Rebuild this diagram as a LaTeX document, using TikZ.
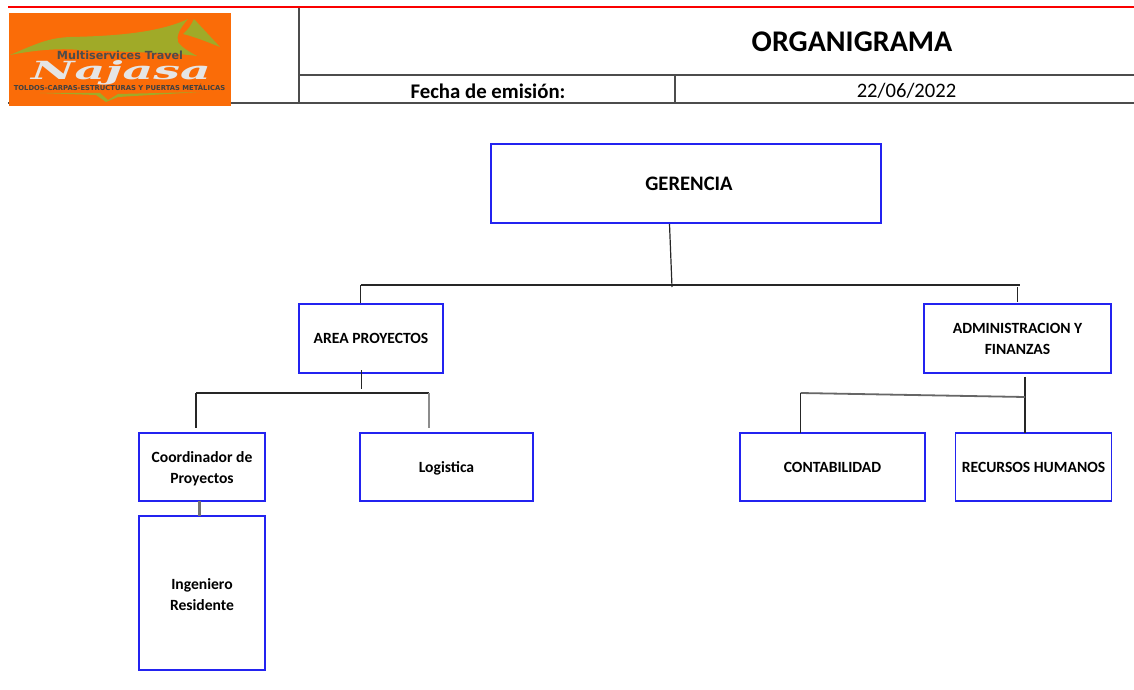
\documentclass[tikz,border=0pt]{standalone}
\usepackage{fontspec}
\usepackage{graphicx}
\setmainfont{Carlito}
\newfontfamily\logosans{DejaVu Sans}
\newfontfamily\logoserif{DejaVu Serif}
\newcommand{\dropstrut}[1]{\rule{0pt}{#1}}
\definecolor{logoorange}{RGB}{250,108,8}
\definecolor{logogreen}{RGB}{160,170,40}
\definecolor{boxblue}{RGB}{35,35,240}
\definecolor{headred}{RGB}{250,0,0}
\begin{document}
\begin{tikzpicture}[x=1pt,y=-1pt,
  orgbox/.style={draw=boxblue,line width=1.3pt,fill=white,align=center,inner sep=0pt,font=\fontsize{15.6}{21}\selectfont\bfseries},
  wire/.style={draw=black!85,line width=1.2pt},
  wiregray/.style={draw=black!45,line width=2.2pt},
  rule/.style={draw=black!70,line width=2pt},
  hdr/.style={inner sep=0pt,anchor=center}]
\useasboundingbox (0,0) rectangle (1134,690);
% header frame
\coordinate (hBL) at (8,103.5); \coordinate (hBR) at (1134,103.5);
\coordinate (vT) at (298.5,8.5); \coordinate (vB) at (298.5,103.5);
\coordinate (mL) at (298.5,75.5); \coordinate (mR) at (1134,75.5);
\coordinate (dT) at (675,75.5); \coordinate (dB) at (675,103.5);
\draw[rule] (hBL) -- (hBR);
\draw[rule] (vT) -- (vB);
\draw[rule] (mL) -- (mR);
\draw[rule,line width=1.3pt] (dT) -- (dB);
\fill[headred] (8,6.5) rectangle (1134,8.5);
% logo
\fill[logoorange] (9,13) rectangle (231,106);
\fill[logogreen] (10,55) .. controls (40,42) and (50,38) .. (70,37)
  .. controls (120,36) and (160,32) .. (188,19)
  .. controls (180,28) and (176,36) .. (178,42) .. controls (182,48) and (190,52) .. (197,56)
  .. controls (170,52) and (110,52) .. (80,50) .. controls (60,48) and (35,50) .. (10,55) -- cycle;
\fill[logogreen] (194,19) -- (220,47) .. controls (205,41) and (195,37) .. (183,34) .. controls (188,30) and (191,25) .. (194,19) -- cycle;
\node[hdr,text=black!70,font=\logosans\fontsize{11.2}{12}\selectfont\bfseries] (logoa) at (120,55.5) {Multiservices Travel};
\node[hdr,text=white!90!black,font=\logoserif\fontsize{25}{25}\selectfont\itshape\bfseries] (logob) at (121,73) {\scalebox{1.9}[1]{Najasa}};
\node[hdr,text=black!75,font=\logosans\fontsize{6.8}{7}\selectfont\bfseries] (logoc) at (119.5,87.5) {TOLDOS-CARPAS-ESTRUCTURAS Y PUERTAS METÁLICAS};
\fill[logogreen] (40,93) -- (100,93) -- (108,100) -- (118,94) -- (200,92) -- (118,97) -- (106,102) -- (96,95) -- cycle;
% header text
\node[hdr,font=\fontsize{30}{32}\selectfont\bfseries] (title) at (852,42) {ORGANIGRAMA};
\node[hdr,font=\fontsize{20.8}{22}\selectfont\bfseries] (fecha) at (488,91) {Fecha de emisión:};
\node[hdr,font=\fontsize{20.6}{22}\selectfont] (date) at (906.5,91) {22/06/2022};
% boxes
\node[orgbox,minimum width=390pt,minimum height=79pt,font=\fontsize{20.6}{24}\selectfont\bfseries,text width=390pt] (ger) at (686,183.5) {\hspace*{6pt}\dropstrut{15pt}GERENCIA};
\node[orgbox,minimum width=144pt,minimum height=69pt] (area) at (371,338.5) {AREA PROYECTOS};
\node[orgbox,minimum width=187pt,minimum height=69pt] (adm) at (1017.5,338.5) {\dropstrut{12pt}ADMINISTRACION Y\\FINANZAS};
\node[orgbox,minimum width=126pt,minimum height=68pt] (coord) at (202,467) {\dropstrut{15.4pt}Coordinador de\\Proyectos};
\node[orgbox,minimum width=173pt,minimum height=68pt] (log) at (446.5,467) {\dropstrut{14.4pt}Logistica};
\node[orgbox,minimum width=185pt,minimum height=68pt] (cont) at (832.5,467) {CONTABILIDAD};
\node[orgbox,minimum width=156pt,minimum height=68pt] (rrhh) at (1033.5,467) {RECURSOS HUMANOS};
\node[orgbox,minimum width=126pt,minimum height=154pt] (ing) at (202,593) {\dropstrut{13.4pt}Ingeniero\\Residente};
% connectors
\coordinate (gA) at (669.5,224); \coordinate (gB) at (672,287);
\coordinate (tL) at (360.5,285); \coordinate (tR) at (1020,285);
\coordinate (tR2) at (1017.5,287); \coordinate (aT) at (1017.5,302);
\draw[wire] (gA) -- (gB);
\draw[wire] (tL) -- (tR);
\draw[wire] (tL) -- (tL |- area.north);
\draw[wire] (tR2) -- (aT);
\coordinate (pA) at (361.5,370); \coordinate (pB) at (361.5,389);
\coordinate (qL) at (196,393); \coordinate (qR) at (429,393);
\coordinate (qLb) at (196,428); \coordinate (qRb) at (429,428);
\draw[wire,line width=1.6pt] (pA) -- (pB);
\draw[wire] (qL) -- (qR);
\draw[wire] (qL) -- (qLb);
\draw[wiregray] (qR) -- (qRb);
\coordinate (cA) at (199.5,501); \coordinate (cB) at (199.5,516);
\draw[wiregray,draw=black!55] (cA) -- (cB);
\coordinate (rT) at (1025,376.5); \coordinate (rB) at (1025,433);
\coordinate (sL) at (800.5,393); \coordinate (sR) at (1025,397);
\coordinate (sLb) at (800.5,433);
\draw[wire] (rT) -- (rB);
\draw[wire,draw=black!60,line width=1.8pt] (sL) -- (sR);
\draw[wire,line width=1.6pt] (sL) -- (sLb);
\end{tikzpicture}
\end{document}
